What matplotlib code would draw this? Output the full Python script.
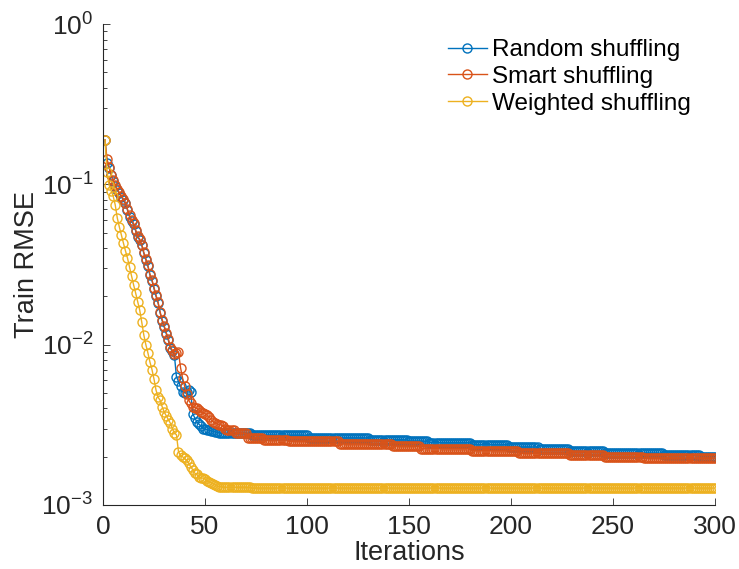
import numpy as np
import matplotlib
matplotlib.use("Agg")
import matplotlib.pyplot as plt
from matplotlib.ticker import LogLocator, NullFormatter

plt.rcParams['font.family'] = ['Liberation Sans', 'DejaVu Sans']
plt.rcParams['mathtext.default'] = 'regular'

# Train RMSE per iteration
# first 60 iterations as individual values, then (value, count) runs on the slow tail
random_early = [0.189, 0.135, 0.127, 0.115, 0.105, 0.098, 0.092, 0.088, 0.0838, 0.080,
                0.076, 0.069, 0.063, 0.0589, 0.0562, 0.0513, 0.0468, 0.045, 0.0417, 0.0372,
                0.0339, 0.0309, 0.0272, 0.0251, 0.0224, 0.020, 0.0182, 0.0158, 0.0141, 0.0129,
                0.0117, 0.0107, 0.0095, 0.0091, 0.0086, 0.0063, 0.0059, 0.0055, 0.0051, 0.0050,
                0.0051, 0.0052, 0.0051, 0.0037, 0.0035, 0.0033, 0.0032, 0.0031, 0.0030, 0.00298,
                0.00295, 0.00293, 0.0029, 0.00288, 0.00286, 0.00284, 0.00282, 0.0028, 0.0028, 0.0028]
random_tail = [(2.80e-3, 12), (2.72e-3, 28), (2.62e-3, 30), (2.55e-3, 19), (2.50e-3, 10),
               (2.45e-3, 21), (2.38e-3, 18), (2.30e-3, 15), (2.22e-3, 15), (2.16e-3, 17),
               (2.10e-3, 29), (2.04e-3, 18), (2.00e-3, 8)]

smart_early = [0.189, 0.143, 0.129, 0.115, 0.106, 0.099, 0.093, 0.089, 0.085, 0.081,
               0.077, 0.070, 0.064, 0.060, 0.057, 0.052, 0.0475, 0.0455, 0.042, 0.0376,
               0.0342, 0.0312, 0.0275, 0.0254, 0.0227, 0.0203, 0.0184, 0.016, 0.0143, 0.0131,
               0.0119, 0.0109, 0.0097, 0.0092, 0.0088, 0.0089, 0.0090, 0.0072, 0.0062, 0.0055,
               0.0049, 0.0045, 0.0043, 0.0041, 0.00405, 0.0040, 0.0039, 0.0038, 0.00375, 0.0037,
               0.00363, 0.00355, 0.0034, 0.0033, 0.00324, 0.0032, 0.00316, 0.00316, 0.0031, 0.0030]
smart_tail = [(2.95e-3, 4), (2.80e-3, 6), (2.62e-3, 8), (2.55e-3, 12), (2.50e-3, 25),
              (2.40e-3, 26), (2.33e-3, 14), (2.25e-3, 25), (2.18e-3, 23), (2.10e-3, 25),
              (2.05e-3, 17), (2.00e-3, 19), (1.96e-3, 36)]

weighted_early = [0.189, 0.120, 0.099, 0.091, 0.0845, 0.0743, 0.0617, 0.0543, 0.0483, 0.0431,
                  0.0385, 0.0347, 0.0306, 0.0268, 0.0236, 0.0210, 0.0185, 0.0164, 0.0138, 0.0115,
                  0.0100, 0.0089, 0.0078, 0.0070, 0.0061, 0.0052, 0.0047, 0.0045, 0.0041, 0.0038,
                  0.0036, 0.0034, 0.00324, 0.0030, 0.0028, 0.00275, 0.00215, 0.00204, 0.0020, 0.00195,
                  0.0019, 0.00182, 0.00173, 0.00166, 0.00158, 0.00155, 0.0015, 0.00148, 0.00147, 0.00145,
                  0.00141, 0.0014, 0.00137, 0.00135, 0.00133, 0.00131, 0.0013, 0.0013, 0.00129, 0.00129]
weighted_tail = [(1.29e-3, 12), (1.275e-3, 228)]

labels = ['Random shuffling', 'Smart shuffling', 'Weighted shuffling']
colors = ['#0072BD', '#D95319', '#EDB120']


def expand(early, tail):
    vals = list(early)
    for v, n in tail:
        vals += [v] * n
    return np.array(vals)


series = [expand(random_early, random_tail),
          expand(smart_early, smart_tail),
          expand(weighted_early, weighted_tail)]
iters = np.arange(1, len(series[0]) + 1)

fig = plt.figure(figsize=(7.39, 5.69), dpi=100)
ax = fig.add_axes([103 / 739, 1 - 505 / 569, 612 / 739, 481 / 569])

for y, lab, c in zip(series, labels, colors):
    ax.plot(iters, y, '-o', color=c, lw=1.0, ms=6.5, mfc='none', mew=1.0, label=lab)

ax.set_yscale('log')
ax.set_ylim(1e-3, 1)
ax.set_xlim(0, 300)
ax.set_xticks([0, 50, 100, 150, 200, 250, 300])
ax.yaxis.set_minor_locator(LogLocator(base=10, subs=np.arange(2, 10)))
ax.yaxis.set_minor_formatter(NullFormatter())

for s in ['top', 'right']:
    ax.spines[s].set_visible(False)
for s in ['left', 'bottom']:
    ax.spines[s].set_color('#262626')
    ax.spines[s].set_linewidth(0.8)

ax.tick_params(which='both', direction='in', colors='#262626', labelsize=19, width=0.6)
ax.tick_params(which='major', length=5, pad=7)
ax.tick_params(which='minor', length=3)

ax.set_xlabel('Iterations', fontsize=19.5, color='#262626', labelpad=1)
ax.set_ylabel('Train RMSE', fontsize=19.5, color='#262626', labelpad=1)

ax.legend(loc='upper left', bbox_to_anchor=(448 / 739, 1 - 39 / 569),
          bbox_transform=fig.transFigure, frameon=False, fontsize=17.5,
          handlelength=1.6, handletextpad=0.2, labelspacing=0.2,
          borderpad=0, borderaxespad=0)

fig.savefig('out.png', dpi=100)
